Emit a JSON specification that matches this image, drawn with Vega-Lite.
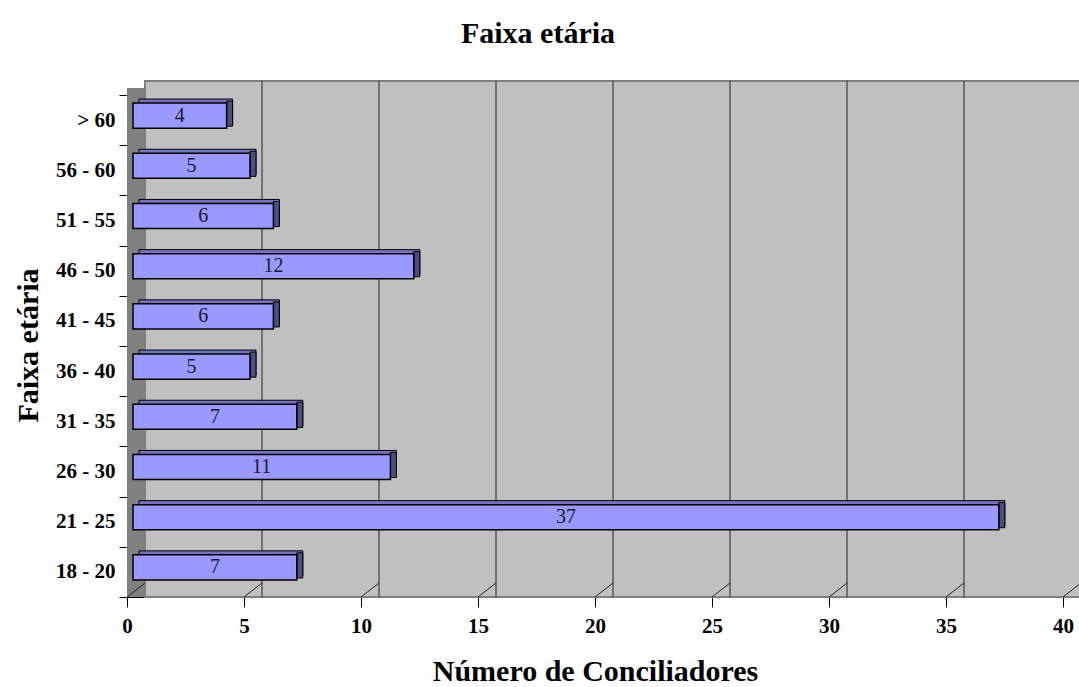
{
  "$schema": "https://vega.github.io/schema/vega-lite/v6.json",
  "autosize": "none",
  "width": 936,
  "height": 502,
  "padding": {"left": 127, "top": 95, "right": 16, "bottom": 90},
  "background": "white",
  "config": {
    "view": {"stroke": null},
    "font": "Liberation Serif"
  },
  "title": {
    "text": "Faixa etária",
    "font": "Liberation Serif",
    "fontSize": 30,
    "fontWeight": "bold",
    "color": "black",
    "anchor": "middle",
    "frame": "group",
    "dx": -57,
    "offset": 31
  },
  "datasets": {
    "faixas": [
      {"faixa": "> 60", "n": 4},
      {"faixa": "56 - 60", "n": 5},
      {"faixa": "51 - 55", "n": 6},
      {"faixa": "46 - 50", "n": 12},
      {"faixa": "41 - 45", "n": 6},
      {"faixa": "36 - 40", "n": 5},
      {"faixa": "31 - 35", "n": 7},
      {"faixa": "26 - 30", "n": 11},
      {"faixa": "21 - 25", "n": 37},
      {"faixa": "18 - 20", "n": 7}
    ],
    "ticks": [
      {"t": 0}, {"t": 5}, {"t": 10}, {"t": 15}, {"t": 20},
      {"t": 25}, {"t": 30}, {"t": 35}, {"t": 40}
    ]
  },
  "resolve": {"scale": {"x": "independent"}},
  "layer": [
    {
      "layer": [
        {
          "data": {"name": "faixas"},
          "mark": {"type": "rect", "fill": "#c0c0c0", "xOffset": 18, "x2Offset": 18, "yOffset": -14, "y2Offset": 0},
          "encoding": {
            "x": {"datum": 0, "type": "quantitative", "scale": {"domain": [0, 40]}},
            "x2": {"datum": 40}
          }
        },
        {
          "data": {"name": "faixas"},
          "mark": {"type": "rect", "fill": "#808080", "xOffset": 0, "x2Offset": 18, "yOffset": -7, "y2Offset": -7},
          "encoding": {
            "x": {"datum": 0, "type": "quantitative"},
            "x2": {"datum": 0}
          }
        },
        {
          "data": {"name": "faixas"},
          "mark": {"type": "rect", "fill": null, "stroke": "#808080", "strokeWidth": 1.5, "xOffset": 18, "x2Offset": 18, "yOffset": -14, "y2Offset": -14},
          "encoding": {
            "x": {"datum": 0, "type": "quantitative"},
            "x2": {"datum": 40}
          }
        },
        {
          "data": {"name": "ticks"},
          "transform": [{"filter": "datum.t > 0 && datum.t < 40"}],
          "mark": {"type": "rule", "color": "#222222", "strokeWidth": 1, "xOffset": 18, "yOffset": -14, "y2Offset": -14},
          "encoding": {
            "x": {"field": "t", "type": "quantitative"}
          }
        },
        {
          "data": {"name": "ticks"},
          "mark": {"type": "rule", "color": "#222222", "strokeWidth": 1, "x2Offset": 18, "y2Offset": -14},
          "encoding": {
            "x": {"field": "t", "type": "quantitative"},
            "x2": {"field": "t"},
            "y": {"datum": "18 - 20", "type": "nominal", "bandPosition": 1},
            "y2": {"datum": "18 - 20", "bandPosition": 1}
          }
        },
        {
          "data": {"name": "faixas"},
          "mark": {"type": "bar", "fill": "#7373bf", "stroke": "black", "strokeWidth": 1, "height": {"band": 0.5}, "xOffset": 12, "x2Offset": 12, "yOffset": -8.5},
          "encoding": {
            "y": {"field": "faixa", "type": "nominal", "sort": null},
            "x": {"field": "n", "type": "quantitative"}
          }
        },
        {
          "data": {"name": "faixas"},
          "mark": {"type": "bar", "fill": "#4d4d80", "stroke": "black", "strokeWidth": 1, "height": {"band": 0.5}, "xOffset": 6, "x2Offset": 12, "yOffset": -6.5},
          "encoding": {
            "y": {"field": "faixa", "type": "nominal", "sort": null},
            "x": {"field": "n", "type": "quantitative"},
            "x2": {"field": "n"}
          }
        },
        {
          "data": {"name": "faixas"},
          "mark": {"type": "bar", "fill": "#9999ff", "stroke": "black", "strokeWidth": 1.5, "height": {"band": 0.5}, "xOffset": 6, "x2Offset": 6, "yOffset": -4.5},
          "encoding": {
            "y": {
              "field": "faixa", "type": "nominal", "sort": null,
              "scale": {
                "domain": ["> 60", "56 - 60", "51 - 55", "46 - 50", "41 - 45", "36 - 40", "31 - 35", "26 - 30", "21 - 25", "18 - 20"],
                "paddingInner": 0, "paddingOuter": 0
              },
              "axis": {
                "title": "Faixa etária",
                "titleFont": "Liberation Serif",
                "titleFontSize": 30,
                "titleFontWeight": "bold",
                "titleColor": "black",
                "titleAngle": -90,
                "titleAlign": "center",
                "titleBaseline": "middle",
                "titleX": -99,
                "titleY": 250,
                "labelFont": "Liberation Serif",
                "labelFontSize": 21,
                "labelFontWeight": "bold",
                "labelColor": "black",
                "labelPadding": 4,
                "tickBand": "extent",
                "tickSize": 8,
                "tickColor": "black",
                "domainColor": "black",
                "domainWidth": 1,
                "grid": false
              }
            },
            "x": {
              "field": "n", "type": "quantitative",
              "scale": {"domain": [0, 40]},
              "axis": {
                "values": [0, 5, 10, 15, 20, 25, 30, 35, 40],
                "title": "Número de Conciliadores",
                "titleFont": "Liberation Serif",
                "titleFontSize": 30,
                "titleFontWeight": "bold",
                "titleColor": "black",
                "titleBaseline": "bottom",
                "titleAlign": "center",
                "titleX": 468,
                "titleY": 89,
                "labelFont": "Liberation Serif",
                "labelFontSize": 21,
                "labelFontWeight": "bold",
                "labelColor": "black",
                "labelFlush": false,
                "labelPadding": 8,
                "tickSize": 10,
                "tickColor": "black",
                "domainColor": "black",
                "domainWidth": 1,
                "grid": false
              }
            }
          }
        }
      ]
    },
    {
      "data": {"name": "faixas"},
      "mark": {"type": "text", "font": "Liberation Serif", "fontSize": 20, "color": "#1a1a2a", "baseline": "middle", "align": "center", "yOffset": -4.5},
      "encoding": {
        "y": {"field": "faixa", "type": "nominal", "sort": null},
        "x": {"field": "n", "type": "quantitative", "scale": {"domain": [0, 40], "range": [6, 474]}, "axis": null},
        "text": {"field": "n", "type": "quantitative"}
      }
    }
  ]
}
